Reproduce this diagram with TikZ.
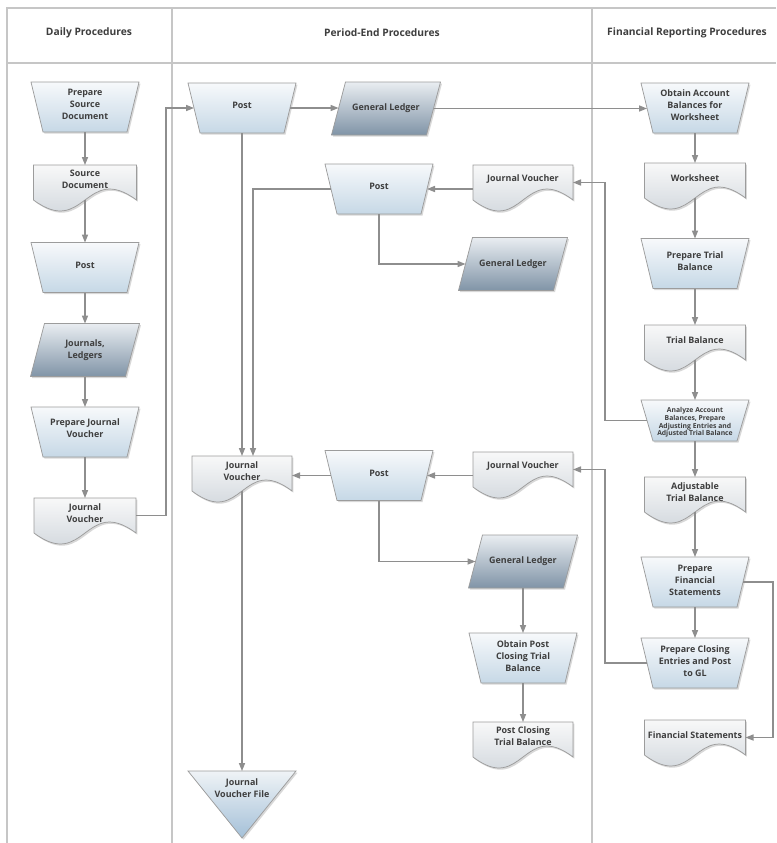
\documentclass[tikz,border=0pt]{standalone}
\usepackage{fontspec}
\setmainfont{Open Sans}
\usetikzlibrary{arrows.meta,calc,shadows}

\definecolor{laneGray}{HTML}{C6C6C6}
\definecolor{outline}{HTML}{9C9C9C}
\definecolor{wire}{HTML}{8E8E8E}
\definecolor{ink}{HTML}{3E3E3E}
\definecolor{opTop}{HTML}{F7F9FB}
\definecolor{opBot}{HTML}{C6D8E6}
\definecolor{docTop}{HTML}{FAFAFA}
\definecolor{docBot}{HTML}{C2CAD2}
\definecolor{dataTop}{HTML}{E9EDF1}
\definecolor{dataBot}{HTML}{8094A7}
\definecolor{fileTop}{HTML}{EFF3F6}
\definecolor{fileBot}{HTML}{A4C0D8}

\tikzset{
  laneline/.style={draw=laneGray, line width=0.8pt},
  shp/.style={draw=outline, line width=0.55pt,
    drop shadow={shadow xshift=1.1pt, shadow yshift=-1.3pt, opacity=0.28, fill=black!55}},
  opshape/.style={shp, top color=opTop, bottom color=opBot},
  docshape/.style={shp, top color=docTop, bottom color=docBot},
  datashape/.style={shp, top color=dataTop, bottom color=dataBot},
  fileshape/.style={shp, top color=fileTop, bottom color=fileBot},
  frame/.style={inner sep=0pt, outer sep=0pt},
  lbl/.style={font=\bfseries\fontsize{6.7}{9}\selectfont, text=ink, align=center, inner sep=0pt},
  tinylbl/.style={font=\bfseries\fontsize{5.1}{5.8}\selectfont, text=ink, align=center, inner sep=0pt},
  head/.style={font=\bfseries\fontsize{7.7}{8.5}\selectfont, text=ink, inner sep=0pt},
  flow/.style={draw=wire, line width=0.9pt, -{Triangle[length=6pt,width=4.6pt]}},
}

% manual operation: [height]{name}{cx}{cy}{text y}{text}
\newcommand\opbox[6][50]{%
  \path[opshape] ({#3-54},{#4-#1/2}) -- ({#3+54},{#4-#1/2}) -- ({#3+42},{#4+#1/2})
    -- ({#3-42},{#4+#1/2}) -- cycle;
  \node[frame, minimum width=72pt, minimum height={#1*0.75pt}] (#2) at (#3,#4) {};
  \node[lbl] (#2-t) at (#3,#5) {#6};
}
% document: [width]{name}{cx}{top}{text y}{text}
\newcommand\docbox[6][101]{%
  \path[docshape] ({#3-#1/2},#4) -- ({#3+#1/2},#4) -- ({#3+#1/2},{#4+35})
    .. controls (#3,{#4-3}) and (#3,{#4+73}) .. ({#3-#1/2},{#4+35}) -- cycle;
  \node[frame, minimum width={#1*0.75pt}, minimum height=26.25pt] (#2) at (#3,{#4+17.5}) {};
  \node[lbl] (#2-t) at (#3,#5) {#6};
}
% data: {name}{cx}{cy}{text}
\newcommand\databox[4]{%
  \path[datashape] ({#2-40.5},{#3-26.5}) -- ({#2+54.5},{#3-26.5}) -- ({#2+40.5},{#3+26.5})
    -- ({#2-54.5},{#3+26.5}) -- cycle;
  \node[frame, minimum width=71.25pt, minimum height=39.75pt] (#1) at (#2,#3) {};
  \node[lbl] (#1-t) at (#2,#3) {#4};
}

\begin{document}
\begin{tikzpicture}[x=0.75pt, y=-0.75pt]
\useasboundingbox (0,0) rectangle (776,843);
\fill[white] (0,0) rectangle (776,843);

% swimlanes
\draw[laneline] (776,8) -- (7,8) -- (7,843);
\draw[laneline] (7,63) -- (776,63);
\draw[laneline] (172,8) -- (172,843);
\draw[laneline] (592,8) -- (592,843);
\node[head] (hdDaily) at (89,33) {Daily Procedures};
\node[head] (hdPeriod) at (382,33) {Period-End Procedures};
\node[head] (hdReport) at (687,33) {Financial Reporting Procedures};

% daily procedures
\opbox{psd}{85}{107}{104}{Prepare\\Source\\Document}
\docbox[103]{sd}{85}{165}{179}{Source\\Document}
\opbox{postA}{85}{267.5}{265}{Post}
\databox{jl}{85}{350}{Journals,\\Ledgers}
\opbox{pjv}{85}{432}{428.5}{Prepare Journal\\Voucher}
\docbox[102]{jvA}{85}{498}{513.5}{Journal\\Voucher}

% period-end procedures
\opbox{postB}{242}{108}{105}{Post}
\databox{glA}{386}{108.5}{General Ledger}
\opbox{postC}{379}{189}{186}{Post}
\docbox[100]{jvB}{523}{165}{179}{Journal Voucher}
\databox{glB}{513}{264}{General Ledger}
\docbox[100]{jvC}{242}{456}{471}{Journal\\Voucher}
\opbox{postD}{379}{475.5}{473}{Post}
\docbox[100]{jvD}{523}{452}{466}{Journal Voucher}
\databox{glC}{523}{561.5}{General Ledger}
\opbox{opc}{523}{658}{656}{Obtain Post\\Closing Trial\\Balance}
\docbox[100]{pctb}{523}{722}{736.5}{Post Closing\\Trial Balance}

% journal voucher file (offline storage)
\path[fileshape] (188,771) -- (296,771) -- (242,838) -- cycle;
\node[frame, minimum width=81pt, minimum height=50.25pt] (jvf) at (242,804.5) {};
\node[lbl] (jvf-t) at (242,788.5) {Journal\\Voucher File};

% financial reporting procedures
\opbox{oab}{695}{108}{105}{Obtain Account\\Balances for\\Worksheet}
\docbox{ws}{695}{163}{178}{Worksheet}
\opbox{ptb}{695}{263.5}{261}{Prepare Trial\\Balance}
\docbox{tb}{695}{325}{340}{Trial Balance}
\path[opshape] (641,400) -- (749,400) -- (737,441) -- (653,441) -- cycle;
\node[frame, minimum width=72pt, minimum height=30.75pt] (an) at (695,420.5) {};
\node[tinylbl] (an-t) at (695,422.5) {Analyze Account\\Balances, Prepare\\Adjusting Entries and\\Adjusted Trial Balance};
\docbox{atb}{695}{477}{492.5}{Adjustable\\Trial Balance}
\opbox{pfs}{695}{582}{580.5}{Prepare\\Financial\\Statements}
\opbox{pce}{695}{663}{661}{Prepare Closing\\Entries and Post\\to GL}
\docbox{fs}{695}{720}{735}{Financial Statements}

% bend columns
\coordinate (busDaily) at (166,0);
\coordinate (busReport) at (605,0);
\coordinate (busRight) at (773,0);

% connectors: daily
\draw[flow] (psd.south) -- (sd.north);
\draw[flow] (sd.south) -- (postA.north);
\draw[flow] (postA.south) -- (jl.north);
\draw[flow] (jl.south) -- (pjv.north);
\draw[flow] (pjv.south) -- (jvA.north);
\draw[flow] (jvA.east) -- (jvA.east -| busDaily) |- (postB.west);

% connectors: period end
\draw[flow] (postB.east) -- (postB.east -| glA.west);
\draw[flow] (glA.east) -- (glA.east -| oab.west);
\draw[flow] (postB.south) -- (jvC.north);
\draw[flow] (postC.west) -| ($(jvC.north)+(11,0)$);
\draw[flow] (jvB.west |- postC.east) -- (postC.east);
\draw[flow] (postC.south) |- (glB.west);
\draw[flow] (jvC.south) -- (jvf.north);
\draw[flow] (jvD.west |- postD.east) -- (postD.east);
\draw[flow] (postD.west) -- (postD.west -| jvC.east);
\draw[flow] (postD.south) |- (glC.west);
\draw[flow] (glC.south) -- (opc.north);
\draw[flow] (opc.south) -- (pctb.north);

% connectors: financial reporting
\draw[flow] (oab.south) -- (ws.north);
\draw[flow] (ws.south) -- (ptb.north);
\draw[flow] (ptb.south) -- (tb.north);
\draw[flow] (tb.south) -- (an.north);
\draw[flow] (an.south) -- (atb.north);
\draw[flow] (atb.south) -- (pfs.north);
\draw[flow] (pfs.south) -- (pce.north);
\draw[flow] (an.west) -- (an.west -| busReport) |- (jvB.east);
\draw[flow] (pce.west) -- (pce.west -| busReport) |- (jvD.east);
\draw[flow] (pfs.east) -- (pfs.east -| busRight) |- (fs.east);
\end{tikzpicture}
\end{document}
